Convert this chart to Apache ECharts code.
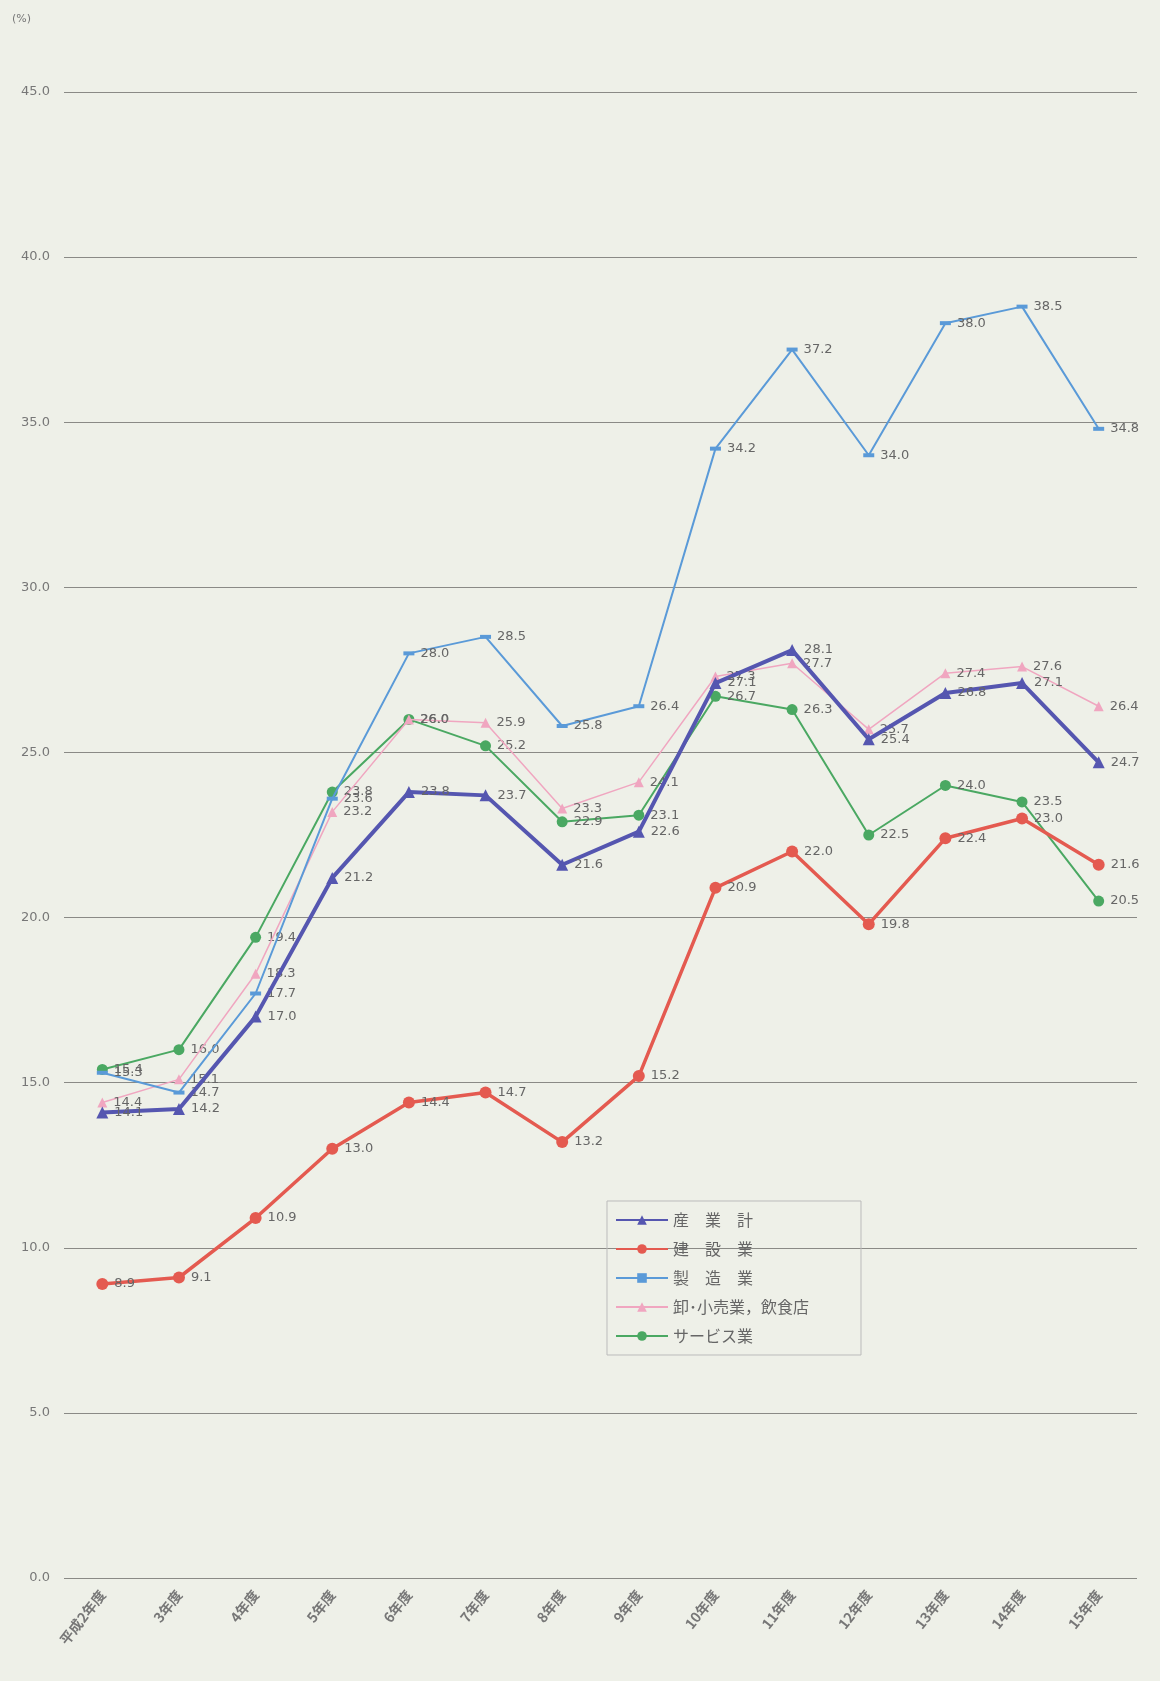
<!DOCTYPE html>
<html><head><meta charset="utf-8">
<script src="https://cdn.jsdelivr.net/npm/echarts@6/dist/echarts.min.js"></script>
<style>html,body{margin:0;padding:0;background:#eef0e8;}#c{width:1160px;height:1681px;}</style>
</head><body><div id="c"></div>
<script>
const categories = ['平成2年度','3年度','4年度','5年度','6年度','7年度','8年度','9年度','10年度','11年度','12年度','13年度','14年度','15年度'];
const yTicks = [0,5,10,15,20,25,30,35,40,45];
const total      = [14.1,14.2,17.0,21.2,23.8,23.7,21.6,22.6,27.1,28.1,25.4,26.8,27.1,24.7];
const construct  = [8.9,9.1,10.9,13.0,14.4,14.7,13.2,15.2,20.9,22.0,19.8,22.4,23.0,21.6];
const manufact   = [15.3,14.7,17.7,23.6,28.0,28.5,25.8,26.4,34.2,37.2,34.0,38.0,38.5,34.8];
const retail     = [14.4,15.1,18.3,23.2,26.0,25.9,23.3,24.1,27.3,27.7,25.7,27.4,27.6,26.4];
const service    = [15.4,16.0,19.4,23.8,26.0,25.2,22.9,23.1,26.7,26.3,22.5,24.0,23.5,20.5];
const names = ['産　業　計','建　設　業','製　造　業','卸･小売業，飲食店','サービス業'];

const lbl = {show:true,position:'right',distance:6,color:'#666',fontSize:13,fontFamily:'DejaVu Sans',formatter:p=>p.value.toFixed(1)};
function mk(name,data,color,width,symbol,size,z){
  return {name,type:'line',data,z,symbol,symbolSize:size,
    lineStyle:{color,width},itemStyle:{color},label:lbl,emphasis:{disabled:true}};
}
const chart = echarts.init(document.getElementById('c'));
chart.setOption({
  backgroundColor:'#eef0e8',
  animation:false,
  grid:{left:64,right:23,top:92,bottom:103},
  graphic:[{type:'text',left:12,top:14,style:{text:'(%)',fontSize:11,fill:'#777',fontFamily:'DejaVu Sans'}}],
  legend:{orient:'vertical',left:607,top:1201,itemGap:13,itemWidth:52,itemHeight:12,
    padding:[11,52,11,8],borderColor:'#bbb',borderWidth:1,
    textStyle:{fontSize:16,color:'#666',fontFamily:'Noto Sans CJK JP'},data:names},
  xAxis:{type:'category',data:categories,boundaryGap:true,
    axisLine:{show:false},axisTick:{show:false},
    axisLabel:{rotate:52,interval:0,fontSize:14,color:'#777',margin:14,fontWeight:'bold',fontFamily:'Noto Sans CJK JP'}},
  yAxis:{type:'value',min:0,max:45,interval:5,
    axisLine:{show:false},axisTick:{show:false},
    axisLabel:{fontSize:13,color:'#777',margin:14,fontFamily:'DejaVu Sans',formatter:v=>v.toFixed(1)},
    splitLine:{lineStyle:{color:'#8a8a86',width:1.2}}},
  series:[
    mk(names[0],total,'#5556b0',4,'triangle',12,6),
    mk(names[1],construct,'#e45a50',3.5,'circle',12,5),
    mk(names[2],manufact,'#5a9ad8',2,'rect',[11,4],4),
    mk(names[3],retail,'#f0a6c0',1.5,'triangle',10,3),
    mk(names[4],service,'#4aa862',2,'circle',11,2)
  ]
});
</script></body></html>
